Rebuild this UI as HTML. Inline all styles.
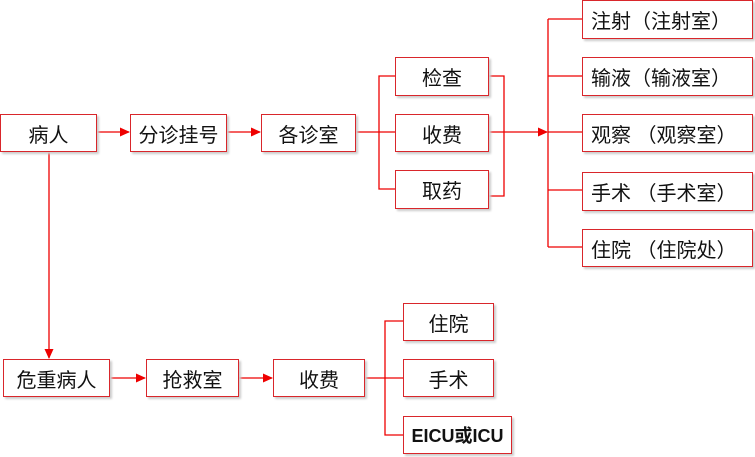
<!DOCTYPE html>
<html><head><meta charset="utf-8"><style>
body{margin:0;background:#fff;width:755px;height:457px;overflow:hidden;position:relative;font-family:"Liberation Sans","Noto Sans CJK SC",sans-serif}
.b{position:absolute;box-sizing:border-box;border:1.5px solid #d9262b;background:#fff;display:flex;align-items:center;justify-content:center;font-size:20px;color:#111;box-shadow:2px 2px 2px #ccc}
.l{text-align:left;justify-content:flex-start;padding-left:8px;white-space:pre}
svg{position:absolute;left:0;top:0}
</style></head><body>
<svg width="755" height="457">
<defs><marker id="a" markerWidth="10" markerHeight="10" refX="9" refY="5" orient="auto" markerUnits="userSpaceOnUse"><path d="M0,0.5 L10,5 L0,9.5z" fill="#e00"/></marker></defs>
<g stroke="#e00" stroke-width="1.3" fill="none">
<line x1="96" y1="132" x2="129" y2="132" marker-end="url(#a)"/>
<line x1="227" y1="132" x2="260" y2="132" marker-end="url(#a)"/>
<line x1="355" y1="132" x2="395" y2="132"/>
<polyline points="395,76 379,76 379,189 395,189"/>
<polyline points="489,76 504,76 504,196 489,196"/>
<line x1="489" y1="132" x2="547" y2="132" marker-end="url(#a)"/>
<line x1="548" y1="19" x2="548" y2="247"/>
<line x1="548" y1="19" x2="582" y2="19"/>
<line x1="548" y1="76" x2="582" y2="76"/>
<line x1="548" y1="132" x2="582" y2="132"/>
<line x1="548" y1="190" x2="582" y2="190"/>
<line x1="548" y1="247" x2="582" y2="247"/>
<line x1="49" y1="151" x2="49" y2="358" marker-end="url(#a)"/>
<line x1="110" y1="378" x2="145" y2="378" marker-end="url(#a)"/>
<line x1="239" y1="378" x2="272" y2="378" marker-end="url(#a)"/>
<line x1="365" y1="378" x2="403" y2="378"/>
<polyline points="403,321 385,321 385,435 403,435"/>
</g></svg>
<div class="b" style="left:0;top:114px;width:97px;height:38px">病人</div>
<div class="b" style="left:130px;top:114px;width:97px;height:38px">分诊挂号</div>
<div class="b" style="left:261px;top:114px;width:95px;height:38px">各诊室</div>
<div class="b" style="left:395px;top:57px;width:94px;height:39px">检查</div>
<div class="b" style="left:395px;top:114px;width:94px;height:38px">收费</div>
<div class="b" style="left:395px;top:170px;width:94px;height:39px">取药</div>
<div class="b l" style="left:582px;top:0;width:171px;height:39px">注射（注射室）</div>
<div class="b l" style="left:582px;top:57px;width:171px;height:39px">输液（输液室）</div>
<div class="b l" style="left:582px;top:114px;width:171px;height:38px">观察 （观察室）</div>
<div class="b l" style="left:582px;top:172px;width:171px;height:39px">手术 （手术室）</div>
<div class="b l" style="left:582px;top:229px;width:171px;height:38px">住院 （住院处）</div>
<div class="b" style="left:3px;top:359px;width:107px;height:38px">危重病人</div>
<div class="b" style="left:146px;top:359px;width:93px;height:38px">抢救室</div>
<div class="b" style="left:273px;top:359px;width:92px;height:38px">收费</div>
<div class="b" style="left:403px;top:303px;width:91px;height:38px">住院</div>
<div class="b" style="left:403px;top:359px;width:91px;height:38px">手术</div>
<div class="b" style="left:403px;top:416px;width:109px;height:38px;font-weight:bold;font-size:18px">EICU或ICU</div>
</body></html>
